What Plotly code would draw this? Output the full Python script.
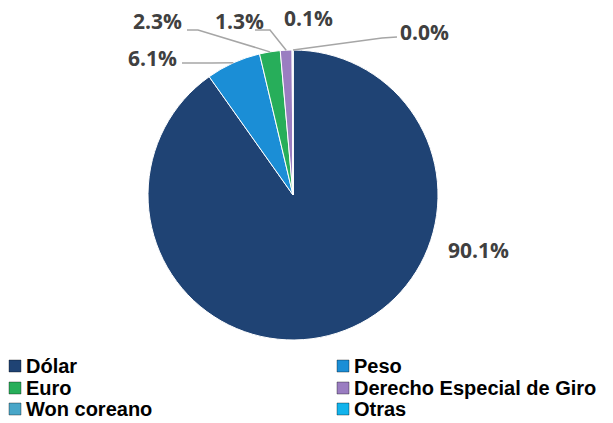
import math
import plotly.graph_objects as go

monedas = ["Dólar", "Peso", "Euro", "Derecho Especial de Giro", "Won coreano", "Otras"]
participacion = [90.1, 6.1, 2.3, 1.3, 0.1, 0.0]
colores = ["#1F4374", "#1B8ED6", "#27AE5A", "#9A7DC1", "#49A6C8", "#12B3EC"]

W, H = 613, 423
cx, cy, r = 293, 195, 145  # centro y radio del pastel (px)

def px(x, y):
    return x / W, 1 - y / H

# centro de la etiqueta y codo de la guía (px); None = sin guía
etiquetas = [
    ((478, 250), None),
    ((152, 58), [(182, 63), (212, 63)]),
    ((157, 21), [(187, 30), (198, 30)]),
    ((239, 21), [(255, 30), (270, 30)]),
    ((308, 18), None),
    ((424, 32), [(397, 37), (382, 38)]),
]

fig = go.Figure(go.Pie(
    labels=monedas,
    values=participacion,
    sort=False,
    direction="clockwise",
    rotation=0,
    textinfo="none",
    hoverinfo="label+percent",
    showlegend=False,
    marker=dict(colors=colores, line=dict(color="white", width=1)),
    domain=dict(x=[(cx - r) / W, (cx + r) / W], y=[1 - (cy + r) / H, 1 - (cy - r) / H]),
))

total = sum(participacion)
acum = 0
for v, ((lx, ly), codo) in zip(participacion, etiquetas):
    mid = 2 * math.pi * (acum + v / 2) / total
    acum += v
    ex, ey = cx + r * math.sin(mid), cy - r * math.cos(mid)
    ax, ay = px(lx, ly)
    fig.add_annotation(x=ax, y=ay, xref="paper", yref="paper", text=f"{v:.1f}%",
                       xanchor="center", yanchor="middle", showarrow=False,
                       font=dict(family="Open Sans", size=21, color="#404040", weight="bold"))
    if codo:
        pts = codo + [(ex, ey)]
        path = "M " + " L ".join(f"{px(x, y)[0]},{px(x, y)[1]}" for x, y in pts)
        fig.add_shape(type="path", path=path, xref="paper", yref="paper",
                      line=dict(color="#A6A6A6", width=1.5))

# leyenda en dos columnas
col_x = [9, 337]
fila_y = [366, 388, 409]
for i, (nombre, color) in enumerate(zip(monedas, colores)):
    x0, y0 = col_x[i % 2], fila_y[i // 2]
    a0, b0 = px(x0, y0 - 6)
    a1, b1 = px(x0 + 12, y0 + 6)
    fig.add_shape(type="rect", x0=a0, x1=a1, y0=b1, y1=b0, xref="paper", yref="paper",
                  fillcolor=color, line=dict(color="rgba(0,0,0,0.35)", width=1))
    tx, ty = px(x0 + 15, y0)
    fig.add_annotation(x=tx, y=ty, xref="paper", yref="paper", text=nombre,
                       xanchor="left", yanchor="middle", showarrow=False,
                       font=dict(family="Liberation Sans", size=20, color="black", weight="bold"))

fig.update_layout(
    width=W, height=H,
    margin=dict(l=0, r=0, t=0, b=0),
    paper_bgcolor="white",
    plot_bgcolor="white",
    showlegend=False,
)

fig.write_html("out.html", config={"displayModeBar": False},
               post_script="document.body.style.margin='0';")
